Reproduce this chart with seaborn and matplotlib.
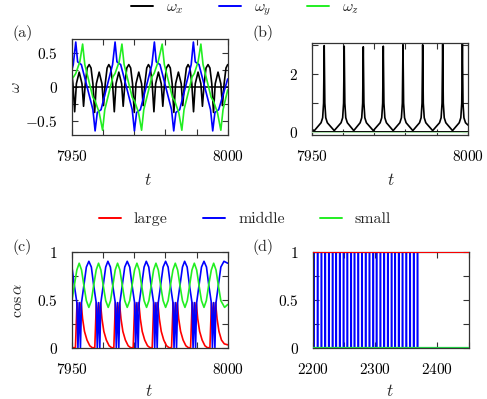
import matplotlib
matplotlib.use("Agg")
import matplotlib.pyplot as plt
import seaborn as sns
from matplotlib.lines import Line2D

# ---- panel (a): angular velocity components ----
wx_t = [7950.0, 7950.4, 7950.95, 7951.5, 7952.4, 7953.3, 7953.8, 7954.35, 7954.95,
        7955.6, 7956.2, 7956.8, 7957.35, 7957.9, 7958.8, 7959.7, 7960.2, 7960.75, 7961.35,
        7961.9, 7962.5, 7963.1, 7963.65, 7964.2, 7965.1, 7966.0, 7966.5, 7967.05, 7967.65,
        7968.3, 7968.9, 7969.5, 7970.05, 7970.6, 7971.5, 7972.4, 7972.9, 7973.45, 7974.05,
        7974.6, 7975.2, 7975.8, 7976.35, 7976.9, 7977.8, 7978.7, 7979.2, 7979.75, 7980.35,
        7981.0, 7981.6, 7982.2, 7982.75, 7983.3, 7984.2, 7985.1, 7985.6, 7986.15, 7986.75,
        7987.3, 7987.9, 7988.5, 7989.05, 7989.6, 7990.5, 7991.4, 7991.9, 7992.45, 7993.05,
        7993.7, 7994.3, 7994.9, 7995.45, 7996.0, 7996.9, 7997.8, 7998.3, 7998.85, 7999.45, 8000.0]
wx_v = [0.22, 0.05, -0.36, 0.05, 0.22, 0.05, -0.28, 0.05, 0.28,
        0.33, 0.28, 0.05, -0.37, 0.05, 0.22, 0.05, -0.27, 0.05, 0.28,
        0.33, 0.28, 0.05, -0.36, 0.05, 0.22, 0.05, -0.28, 0.05, 0.28,
        0.33, 0.28, 0.05, -0.37, 0.05, 0.22, 0.05, -0.27, 0.05, 0.28,
        0.33, 0.28, 0.05, -0.36, 0.05, 0.22, 0.05, -0.28, 0.05, 0.28,
        0.33, 0.28, 0.05, -0.37, 0.05, 0.22, 0.05, -0.27, 0.05, 0.28,
        0.33, 0.28, 0.05, -0.36, 0.05, 0.22, 0.05, -0.28, 0.05, 0.28,
        0.33, 0.28, 0.05, -0.37, 0.05, 0.22, 0.05, -0.27, 0.05, 0.28, 0.33]

wy_t = [7950.0, 7950.5, 7951.3, 7951.9, 7953.1, 7956.8, 7957.5, 7958.2, 7959.4, 7963.1,
        7963.9, 7964.5, 7965.7, 7969.4, 7970.1, 7970.8, 7972.0, 7975.7,
        7976.5, 7977.1, 7978.3, 7982.0, 7982.7, 7983.4, 7984.6, 7988.3,
        7989.0, 7989.6, 7990.8, 7994.5, 7995.2, 7995.9, 7997.1, 8000.0]
wy_v = [0.24, 0.33, 0.66, 0.37, 0.33, -0.33, -0.64, -0.37, -0.33, 0.33,
        0.66, 0.37, 0.33, -0.33, -0.64, -0.37, -0.33, 0.33,
        0.66, 0.37, 0.33, -0.33, -0.64, -0.37, -0.33, 0.33,
        0.66, 0.37, 0.33, -0.33, -0.64, -0.37, -0.33, 0.12]

wz_t = [7950.0, 7950.6, 7951.3, 7952.6, 7953.5, 7954.2, 7956.8, 7957.5, 7958.8, 7959.9, 7960.6, 7963.2, 7963.9, 7965.2,
        7966.1, 7966.8, 7969.4, 7970.1, 7971.4, 7972.4, 7973.1, 7975.7, 7976.4, 7977.7,
        7979.0, 7979.7, 7982.3, 7983.0, 7984.3, 7985.3, 7986.0, 7988.6, 7989.3, 7990.5,
        7991.4, 7992.1, 7994.7, 7995.4, 7996.7, 7997.8, 7998.5, 8000.0]
wz_v = [0.12, 0.15, 0.20, 0.37, 0.63, 0.33, -0.15, -0.20, -0.37, -0.63, -0.33, 0.15, 0.20, 0.37,
        0.63, 0.33, -0.15, -0.20, -0.37, -0.63, -0.33, 0.15, 0.20, 0.37,
        0.63, 0.33, -0.15, -0.20, -0.37, -0.63, -0.33, 0.15, 0.20, 0.37,
        0.63, 0.33, -0.15, -0.20, -0.37, -0.63, -0.33, -0.04]

# ---- panel (b) ----
b_t = [7950.0, 7950.85, 7953.0, 7953.5, 7953.8, 7954.0, 7954.2, 7954.5, 7955.0, 7957.2,
       7959.4, 7959.9, 7960.2, 7960.4, 7960.6, 7960.9, 7961.4, 7963.45,
       7965.5, 7966.0, 7966.3, 7966.5, 7966.7, 7967.0, 7967.5, 7969.7,
       7971.9, 7972.4, 7972.7, 7972.9, 7973.1, 7973.4, 7973.9, 7976.05,
       7978.2, 7978.7, 7979.0, 7979.2, 7979.4, 7979.7, 7980.2, 7982.35,
       7984.5, 7985.0, 7985.3, 7985.5, 7985.7, 7986.0, 7986.5, 7988.7,
       7990.9, 7991.4, 7991.7, 7991.9, 7992.1, 7992.4, 7992.9, 7995.05,
       7997.2, 7997.7, 7998.0, 7998.2, 7998.4, 7998.7, 7999.2, 8000.0]
b_v = [0.10, 0.06, 0.33, 0.50, 1.0, 2.97, 1.0, 0.50, 0.33, 0.06,
       0.33, 0.50, 1.0, 2.95, 1.0, 0.50, 0.33, 0.06,
       0.33, 0.50, 1.0, 2.93, 1.0, 0.50, 0.33, 0.06,
       0.33, 0.50, 1.0, 2.95, 1.0, 0.50, 0.33, 0.06,
       0.33, 0.50, 1.0, 3.00, 1.0, 0.50, 0.33, 0.06,
       0.33, 0.50, 1.0, 3.00, 1.0, 0.50, 0.33, 0.06,
       0.33, 0.50, 1.0, 3.02, 1.0, 0.50, 0.33, 0.06,
       0.33, 0.50, 1.0, 3.05, 1.0, 0.50, 0.33, 0.25]
b_zero_t = [7950.0, 8000.0]
b_zero_v = [0.0, 0.0]

# ---- panel (c): cos alpha ----
large_t = [7950.0, 7951.2, 7951.7, 7952.35, 7953.0, 7953.5, 7954.1, 7954.9, 7955.8, 7956.6,
           7957.4, 7957.9, 7958.55, 7959.2, 7959.7, 7960.3, 7961.1, 7962.0, 7962.8,
           7963.5, 7964.0, 7964.65, 7965.3, 7965.8, 7966.4, 7967.2, 7968.1, 7968.9,
           7969.7, 7970.2, 7970.85, 7971.5, 7972.0, 7972.6, 7973.4, 7974.3, 7975.1,
           7975.8, 7976.3, 7976.95, 7977.6, 7978.1, 7978.7, 7979.5, 7980.4, 7981.2,
           7982.0, 7982.5, 7983.15, 7983.8, 7984.3, 7984.9, 7985.7, 7986.6, 7987.4,
           7988.1, 7988.6, 7989.25, 7989.9, 7990.4, 7991.0, 7991.8, 7992.7, 7993.5,
           7994.3, 7994.8, 7995.45, 7996.1, 7996.6, 7997.2, 7998.0, 7998.9, 8000.0]
large_v = [0.0, 0.0, 0.47, 0.30, 0.47, 0.30, 0.17, 0.08, 0.02, 0.0,
           0.0, 0.47, 0.30, 0.47, 0.30, 0.17, 0.08, 0.02, 0.0,
           0.0, 0.47, 0.30, 0.47, 0.30, 0.17, 0.08, 0.02, 0.0,
           0.0, 0.47, 0.30, 0.47, 0.30, 0.17, 0.08, 0.02, 0.0,
           0.0, 0.47, 0.30, 0.47, 0.30, 0.17, 0.08, 0.02, 0.0,
           0.0, 0.47, 0.30, 0.47, 0.30, 0.17, 0.08, 0.02, 0.0,
           0.0, 0.47, 0.30, 0.47, 0.30, 0.17, 0.08, 0.02, 0.0,
           0.0, 0.47, 0.30, 0.47, 0.30, 0.17, 0.08, 0.04, 0.03]

middle_t = [7950.0, 7950.8, 7951.65, 7952.0, 7952.4, 7952.8, 7953.15, 7953.95, 7954.7, 7955.5,
            7956.3, 7957.0, 7957.85, 7958.2, 7958.6, 7959.0, 7959.35, 7960.15, 7960.9, 7961.6,
            7962.4, 7963.1, 7963.95, 7964.3, 7964.7, 7965.1, 7965.45, 7966.25, 7967.0, 7967.8,
            7968.6, 7969.3, 7970.15, 7970.5, 7970.9, 7971.3, 7971.65, 7972.45, 7973.2, 7973.9,
            7974.7, 7975.4, 7976.25, 7976.6, 7977.0, 7977.4, 7977.75, 7978.55, 7979.3, 7980.1,
            7980.9, 7981.6, 7982.45, 7982.8, 7983.2, 7983.6, 7983.95, 7984.75, 7985.5, 7986.2,
            7987.0, 7987.7, 7988.55, 7988.9, 7989.3, 7989.7, 7990.05, 7990.85, 7991.6, 7992.4,
            7993.2, 7993.9, 7994.75, 7995.1, 7995.5, 7995.9, 7996.25, 7997.05, 7997.8, 7998.8,
            8000.0]
middle_v = [0.86, 0.66, 0.47, 0.0, 0.47, 0.0, 0.47, 0.66, 0.84, 0.90,
            0.84, 0.66, 0.47, 0.0, 0.47, 0.0, 0.47, 0.66, 0.84, 0.90,
            0.84, 0.66, 0.47, 0.0, 0.47, 0.0, 0.47, 0.66, 0.84, 0.90,
            0.84, 0.66, 0.47, 0.0, 0.47, 0.0, 0.47, 0.66, 0.84, 0.90,
            0.84, 0.66, 0.47, 0.0, 0.47, 0.0, 0.47, 0.66, 0.84, 0.90,
            0.84, 0.66, 0.47, 0.0, 0.47, 0.0, 0.47, 0.66, 0.84, 0.90,
            0.84, 0.66, 0.47, 0.0, 0.47, 0.0, 0.47, 0.66, 0.84, 0.90,
            0.84, 0.66, 0.47, 0.0, 0.47, 0.0, 0.47, 0.66, 0.84, 0.90,
            0.88]

small_t = [7950.0, 7950.85, 7951.65, 7952.4, 7953.15, 7953.9, 7954.7, 7955.5, 7956.3, 7957.05, 7957.85,
           7958.6, 7959.35, 7960.1, 7960.9, 7961.7, 7962.45, 7963.2, 7963.95,
           7964.7, 7965.45, 7966.2, 7967.0, 7967.8, 7968.6, 7969.35, 7970.15,
           7970.9, 7971.65, 7972.4, 7973.2, 7974.0, 7974.75, 7975.5, 7976.25,
           7977.0, 7977.75, 7978.5, 7979.3, 7980.1, 7980.9, 7981.65, 7982.45,
           7983.2, 7983.95, 7984.7, 7985.5, 7986.3, 7987.05, 7987.8, 7988.55,
           7989.3, 7990.05, 7990.8, 7991.6, 7992.4, 7993.15, 7993.9, 7994.75,
           7995.5, 7996.25, 7997.0, 7997.8, 7999.0, 8000.0]
small_v = [0.47, 0.65, 0.81, 0.88, 0.81, 0.65, 0.49, 0.42, 0.49, 0.65, 0.81,
           0.88, 0.81, 0.65, 0.49, 0.42, 0.49, 0.65, 0.81,
           0.88, 0.81, 0.65, 0.49, 0.42, 0.49, 0.65, 0.81,
           0.88, 0.81, 0.65, 0.49, 0.42, 0.49, 0.65, 0.81,
           0.88, 0.81, 0.65, 0.49, 0.42, 0.49, 0.65, 0.81,
           0.88, 0.81, 0.65, 0.49, 0.42, 0.49, 0.65, 0.81,
           0.88, 0.81, 0.65, 0.49, 0.42, 0.49, 0.65, 0.81,
           0.88, 0.81, 0.65, 0.49, 0.42, 0.45]

# ---- panel (d): switching of the middle axis ----
d_t = [2200, 2450]
d_large = [1.0, 1.0]
d_small = [0.0, 0.0]
switch_times = [2202, 2208, 2214, 2220, 2226, 2232, 2237.5, 2243.5, 2249.5, 2255.5,
                2261.5, 2267, 2273, 2279, 2285, 2291, 2297, 2302.5, 2308.5, 2314.5,
                2320.5, 2326.5, 2332, 2338, 2344, 2350, 2356, 2362, 2368]

W, H = 487, 399
sns.set_style("ticks")
plt.rcParams["font.family"] = "serif"
plt.rcParams["font.serif"] = ["cmr10"]
plt.rcParams["mathtext.fontset"] = "cm"
plt.rcParams["axes.unicode_minus"] = False
plt.rcParams["axes.formatter.use_mathtext"] = True

fig = plt.figure(figsize=(W / 100, H / 100), dpi=100)


def box(l, t, r, b):
    return fig.add_axes([l / W, 1 - b / H, (r - l) / W, (b - t) / H])


def style(ax, xlim, xticks, xlabels, ylim, yticks, ylabels):
    ax.set_xlim(*xlim)
    ax.set_ylim(*ylim)
    ax.set_xticks(xticks)
    ax.set_xticklabels(xlabels)
    ax.set_yticks(yticks)
    ax.set_yticklabels(ylabels)
    ax.set_xlabel("")
    ax.set_ylabel("")
    ax.tick_params(direction="in", top=True, right=True, length=4, width=0.8,
                   labelsize=11, pad=10, colors="#333333", labelcolor="black")
    for s in ax.spines.values():
        s.set_visible(True)
        s.set_linewidth(0.9)
        s.set_color("#333333")


def line(ax, x, y, color, lw=1.2, z=2):
    sns.lineplot(x=x, y=y, ax=ax, color=color, lw=lw, estimator=None, sort=False,
                 legend=False, zorder=z)


tx = [7950, 7960, 7970, 7980, 7990, 8000]
txl = ["$7950$", "", "", "", "", "$8000$"]

# (a)
ax_a = box(71.7, 39.3, 227.7, 135)
ax_a.axhline(0, color="black", lw=1.1, zorder=1)
line(ax_a, wx_t, wx_v, "black")
line(ax_a, wy_t, wy_v, "#0000ff")
line(ax_a, wz_t, wz_v, "#22ee22")
style(ax_a, (7950, 8000), tx, txl, (-0.7, 0.7), [-0.5, -0.25, 0, 0.25, 0.5],
      ["$-0.5$", "", "$0$", "", "$0.5$"])

# (b)
ax_b = box(311.7, 43.3, 468, 135)
ax_b.axhline(0, color="black", lw=1.4, zorder=1)
line(ax_b, b_zero_t, b_zero_v, "#a8dca8", lw=0.8, z=3)
line(ax_b, b_t, b_v, "black")
style(ax_b, (7950, 8000), tx, txl, (-0.09, 3.05), [0, 1, 2, 3], ["$0$", "", "$2$", ""])

# (c)
ax_c = box(71.7, 251.7, 227.7, 347.7)
line(ax_c, large_t, large_v, "#ff0000")
line(ax_c, middle_t, middle_v, "#0000ff")
line(ax_c, small_t, small_v, "#22ee22")
yt = [0, 0.25, 0.5, 0.75, 1]
ytl = ["$0$", "", "$0.5$", "", "$1$"]
style(ax_c, (7950, 8000), tx, txl, (0, 1), yt, ytl)

# (d)
ax_d = box(312.7, 251.7, 468.7, 347.7)
pulse_t, pulse_v = [2200.0], [0.0]
for c in switch_times:
    pulse_t += [c - 0.6, c - 0.5, c + 0.5, c + 0.6]
    pulse_v += [0.0, 1.0, 1.0, 0.0]
pulse_t.append(2450.0)
pulse_v.append(0.0)
line(ax_d, pulse_t, pulse_v, "#0000ff", lw=1.0, z=2)
line(ax_d, d_t, d_large, "#ff0000", lw=1.4, z=3)
line(ax_d, d_t, d_small, "#22cc44", lw=1.6, z=3)
style(ax_d, (2200, 2450), [2200, 2250, 2300, 2350, 2400, 2450],
      ["$2200$", "", "$2300$", "", "$2400$", ""], (0, 1), yt, ytl)

for ax in (ax_a, ax_b, ax_c, ax_d):
    for ln in ax.get_lines():
        ln.set_clip_on(True)

# labels
fs = 11.5
fig.text(13 / W, 1 - 33 / H, "(a)", fontsize=fs, va="center")
fig.text(253 / W, 1 - 33 / H, "(b)", fontsize=fs, va="center")
fig.text(13 / W, 1 - 247 / H, "(c)", fontsize=fs, va="center")
fig.text(253 / W, 1 - 247 / H, "(d)", fontsize=fs, va="center")
fig.text(16 / W, 1 - 87 / H, r"$\omega$", fontsize=fs, rotation=90, ha="center", va="center")
fig.text(18 / W, 1 - 300 / H, r"$\cos\alpha$", fontsize=fs, rotation=90, ha="center", va="center")
for x, y in [(148, 180), (391, 180), (149, 391), (390, 391)]:
    fig.text(x / W, 1 - y / H, "$t$", fontsize=fs + 1, ha="center", va="center")

# legends
h1 = [Line2D([], [], color=c, lw=1.4) for c in ("black", "#0000ff", "#22ee22")]
fig.legend(h1, [r"$\omega_x$", r"$\omega_y$", r"$\omega_z$"], loc="center",
           bbox_to_anchor=(245 / W, 1 - 9 / H), ncol=3, frameon=False, fontsize=fs,
           handlelength=1.4, columnspacing=2.2, handletextpad=0.8)
h2 = [Line2D([], [], color=c, lw=1.4) for c in ("#ff0000", "#0000ff", "#22ee22")]
fig.legend(h2, ["large", "middle", "small"], loc="center",
           bbox_to_anchor=(245 / W, 1 - 219 / H), ncol=3, frameon=False, fontsize=fs,
           handlelength=1.4, columnspacing=2.2, handletextpad=0.8)

fig.savefig("out.png", dpi=100)
